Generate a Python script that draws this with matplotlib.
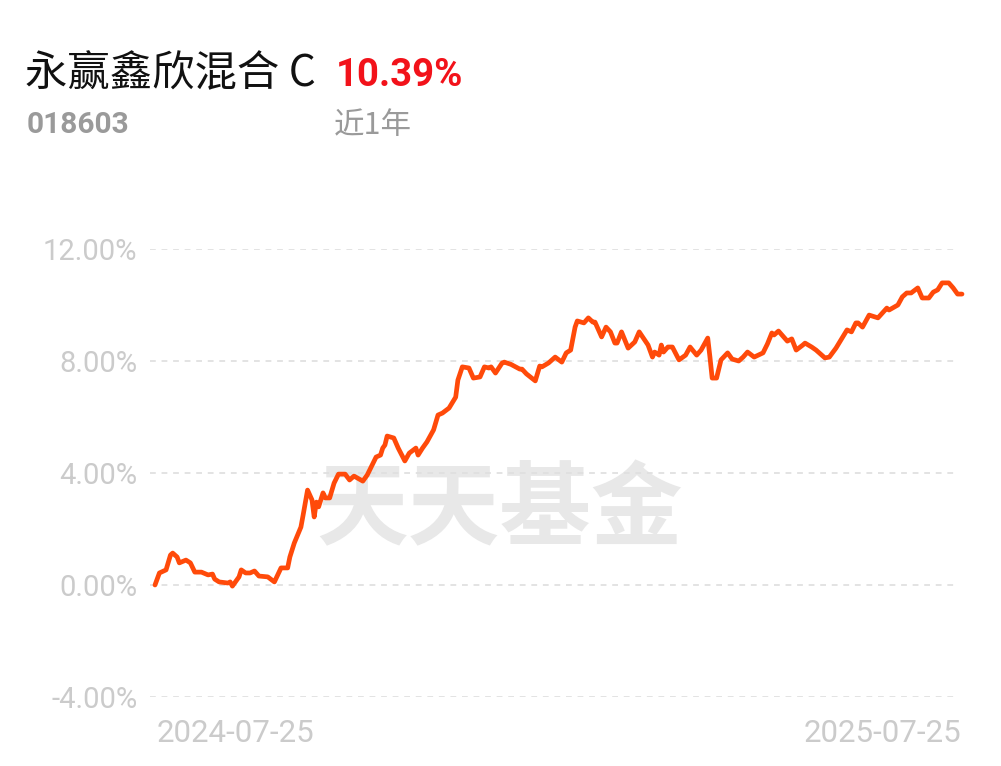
import matplotlib
matplotlib.use("Agg")
import matplotlib.pyplot as plt
from matplotlib.ticker import FixedLocator

# ---- data ----
fund_name = "永赢鑫欣混合"
share_class = "C"
fund_code = "018603"
period_return = "10.39%"
period_label = "近1年"
x_tick_labels = ["2024-07-25", "2025-07-25"]
y_ticks = [-4, 0, 4, 8, 12]

days = [0, 2, 5, 7, 8, 10, 11, 14, 16, 18, 21, 24, 26, 27, 29, 33, 34, 35, 38, 39,
        41, 43, 45, 47, 51, 54, 57, 60, 61, 63, 66, 67, 69, 71, 72, 73, 74, 76, 77, 79,
        81, 83, 86, 88, 90, 94, 96, 100, 102, 103, 104, 105, 108, 110, 113, 115, 118, 119, 121, 123,
        126, 128, 130, 133, 136, 137, 139, 142, 144, 147, 149, 151, 152, 154, 157, 158, 161, 165, 166, 168,
        172, 174, 175, 178, 181, 184, 186, 188, 190, 191, 194, 196, 198, 199, 202, 204, 206, 208, 209, 211,
        214, 217, 219, 223, 225, 226, 228, 229, 230, 232, 234, 237, 240, 242, 245, 247, 250, 251, 252, 254,
        256, 259, 261, 264, 266, 268, 271, 275, 277, 279, 280, 282, 284, 286, 288, 290, 293, 294, 297, 299,
        303, 305, 308, 313, 315, 317, 318, 320, 323, 327, 331, 332, 336, 338, 340, 342, 345, 347, 350, 352,
        354, 356, 359, 361, 363, 365]

returns = [0.00, 0.43, 0.54, 1.07, 1.14, 1.00, 0.79, 0.89, 0.79, 0.46, 0.46, 0.36, 0.39, 0.21, 0.11, 0.07, 0.11, -0.04, 0.29, 0.54,
           0.43, 0.43, 0.50, 0.32, 0.29, 0.11, 0.61, 0.61, 1.00, 1.50, 2.07, 2.50, 3.39, 3.04, 2.43, 2.96, 2.79, 3.29, 3.11, 3.11,
           3.64, 3.96, 3.96, 3.75, 3.89, 3.71, 3.93, 4.57, 4.64, 4.89, 5.00, 5.32, 5.25, 4.89, 4.43, 4.71, 4.89, 4.64, 4.89, 5.11,
           5.54, 6.07, 6.14, 6.32, 6.71, 7.32, 7.79, 7.75, 7.39, 7.43, 7.79, 7.75, 7.79, 7.57, 7.93, 7.96, 7.88, 7.71, 7.71, 7.54,
           7.29, 7.82, 7.79, 7.93, 8.14, 7.96, 8.29, 8.39, 9.21, 9.43, 9.36, 9.54, 9.39, 9.39, 8.86, 9.21, 9.04, 8.64, 8.64, 9.04,
           8.46, 8.68, 9.04, 8.57, 8.14, 8.32, 8.21, 8.57, 8.32, 8.50, 8.50, 8.04, 8.21, 8.50, 8.21, 8.39, 8.82, 8.14, 7.39, 7.39,
           8.04, 8.29, 8.07, 8.00, 8.14, 8.32, 8.14, 8.29, 8.61, 9.00, 8.93, 9.07, 8.89, 8.71, 8.79, 8.39, 8.57, 8.64, 8.50, 8.39,
           8.11, 8.14, 8.46, 9.11, 9.04, 9.36, 9.36, 9.21, 9.64, 9.54, 9.89, 9.82, 10.00, 10.29, 10.43, 10.43, 10.61, 10.25, 10.25, 10.46,
           10.54, 10.79, 10.79, 10.61, 10.39, 10.39]

CJK = ["Noto Sans CJK SC", "DejaVu Sans"]

# ---- figure ----
W, H = 1001, 766
fig = plt.figure(figsize=(W / 100, H / 100), dpi=100)
fig.patch.set_facecolor("white")

ax_left, ax_right = 150 / W, 958 / W
ax_top, ax_bottom = 1 - 249 / H, 1 - 697 / H
ax = fig.add_axes([ax_left, ax_bottom, ax_right - ax_left, ax_top - ax_bottom])
ax.set_facecolor("none")

px_per_day = 807 / 365
ax.set_xlim(-5 / px_per_day, 365 - 4 / px_per_day)
ax.set_ylim(-4, 12)

for s in ax.spines.values():
    s.set_visible(False)
ax.yaxis.set_major_locator(FixedLocator(y_ticks))
ax.set_yticklabels([f"{v:.2f}%" for v in y_ticks])
ax.tick_params(axis="y", length=0, pad=9, labelsize=21, labelcolor="#cbcbcb")
for lab in ax.get_yticklabels():
    lab.set_fontfamily("Roboto")
ax.set_xticks([])
ax.grid(False)
for v in y_ticks:
    ax.axhline(v, color="#e0e0e0", lw=1.3, ls=(0, (3.2, 3.2)), zorder=1)

# watermark
ax.text(0.433, 0.415, "天天基金", transform=ax.transAxes, ha="center", va="center",
        fontsize=66, fontweight="bold", color="#e8e8e8",
        family=CJK, zorder=0)

ax.plot(days, returns, color="#ff4a0a", lw=3.4, solid_joinstyle="round",
        solid_capstyle="round", clip_on=False, zorder=3)

# x labels
fig.text(157 / W, 1 - 734 / H, x_tick_labels[0], ha="left", va="center",
         fontsize=22.5, color="#cbcbcb", family="Roboto")
fig.text(961 / W, 1 - 734 / H, x_tick_labels[1], ha="right", va="center",
         fontsize=22.5, color="#cbcbcb", family="Roboto")

# header
fig.text(25 / W, 1 - 74 / H, fund_name + " " + share_class, ha="left", va="center",
         fontsize=30.5, fontweight="light", color="#111111", family=CJK)
fig.text(336 / W, 1 - 75 / H, period_return, ha="left", va="center",
         fontsize=27.5, fontweight="bold", color="#f2121a", family="Roboto")
fig.text(27 / W, 1 - 125 / H, fund_code, ha="left", va="center",
         fontsize=21.5, fontweight="bold", color="#9a9a9a", family="Roboto")
fig.text(334 / W, 1 - 126 / H, period_label, ha="left", va="center",
         fontsize=22, color="#9a9a9a", family=CJK)

fig.savefig("out.png", dpi=100, facecolor="white")
